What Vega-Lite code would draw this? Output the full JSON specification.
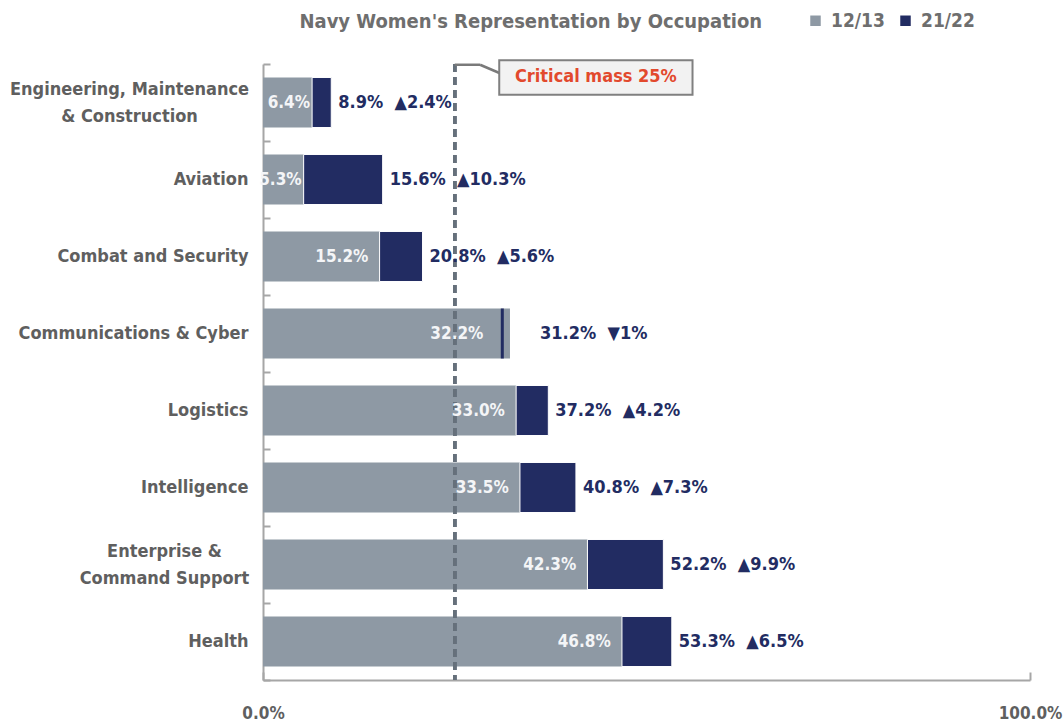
{
  "$schema": "https://vega.github.io/schema/vega-lite/v6.json",
  "width": 767,
  "height": 616,
  "autosize": {"type": "none"},
  "padding": {"left": 263, "top": 64, "right": 33, "bottom": 44},
  "background": "white",
  "title": {"text": "Navy Women's Representation by Occupation", "anchor": "start", "dx": 290, "offset": 0, "dy": 21, "fontSize": 20, "font": "DejaVu Sans Condensed, DejaVu Sans", "fontWeight": "bold", "color": "#6e6e6e"},
  "config": {"view": {"stroke": null}, "font": "DejaVu Sans Condensed, DejaVu Sans"},
  "resolve": {"scale": {"y": "independent"}, "axis": {"y": "independent"}},
  "layer": [
    {
      "data": {"values": [
        {"occ": "Engineering, Maintenance & Construction", "v1": 6.4, "v2": 8.9, "out": "8.9%\u00a0 ▲2.4%"},
        {"occ": "Aviation", "v1": 5.3, "v2": 15.6, "out": "15.6%\u00a0 ▲10.3%"},
        {"occ": "Combat and Security", "v1": 15.2, "v2": 20.8, "out": "20.8%\u00a0 ▲5.6%"},
        {"occ": "Communications & Cyber", "v1": 32.2, "v2": 31.2, "out": "31.2%\u00a0 ▼1%"},
        {"occ": "Logistics", "v1": 33.0, "v2": 37.2, "out": "37.2%\u00a0 ▲4.2%"},
        {"occ": "Intelligence", "v1": 33.5, "v2": 40.8, "out": "40.8%\u00a0 ▲7.3%"},
        {"occ": "Enterprise & Command Support", "v1": 42.3, "v2": 52.2, "out": "52.2%\u00a0 ▲9.9%"},
        {"occ": "Health", "v1": 46.8, "v2": 53.3, "out": "53.3%\u00a0 ▲6.5%"}
      ]},
      "transform": [
        {"calculate": "format(datum.v1, '.1f') + '%'", "as": "inLabel"},
        {"calculate": "datum.v2 < datum.v1 ? datum.v2 - 2.2 : (datum.v1 < 10 ? datum.v1 : datum.v1 - 1.2)", "as": "xi"},
        {"calculate": "datum.v2 < datum.v1 ? datum.v1 + 3 : datum.v2", "as": "xe"}
      ],
      "encoding": {
        "y": {
          "field": "occ", "type": "nominal",
          "scale": {"domain": ["Engineering, Maintenance & Construction", "Aviation", "Combat and Security", "Communications & Cyber", "Logistics", "Intelligence", "Enterprise & Command Support", "Health"], "paddingInner": 0, "paddingOuter": 0},
          "axis": {
            "title": null,
            "tickBand": "extent",
            "domainColor": "#a6a6a6", "domainWidth": 2,
            "tickColor": "#a6a6a6", "tickWidth": 2, "tickSize": -7,
            "labelFontSize": 18, "labelColor": "#5f5f5f", "labelFontWeight": "bold",
            "labelAlign": {"condition": {"test": "datum.value == 'Engineering, Maintenance & Construction' || datum.value == 'Enterprise & Command Support'", "value": "center"}, "value": "right"},
            "labelPadding": {"condition": [
              {"test": "datum.value == 'Engineering, Maintenance & Construction'", "value": 141},
              {"test": "datum.value == 'Enterprise & Command Support'", "value": 106}
            ], "value": 22},
            "labelOffset": {"condition": {"test": "datum.value == 'Engineering, Maintenance & Construction' || datum.value == 'Enterprise & Command Support'", "value": -13}, "value": 0},
            "labelLineHeight": 27, "labelLimit": 400,
            "labelExpr": "datum.value == 'Engineering, Maintenance & Construction' ? ['Engineering, Maintenance', '& Construction'] : datum.value == 'Enterprise & Command Support' ? ['Enterprise &', 'Command Support'] : datum.value"
          }
        }
      },
      "layer": [
        {
          "mark": {"type": "bar", "height": {"band": 0.65}},
          "encoding": {
            "x": {"field": "v1", "type": "quantitative", "scale": {"domain": [0, 100], "nice": false},
              "axis": {"title": null, "values": [0, 100], "labelExpr": "format(datum.value, '.1f') + '%'", "grid": false, "labelFlush": false,
                "domainColor": "#a6a6a6", "domainWidth": 2, "tickColor": "#a6a6a6", "tickWidth": 2, "tickSize": -8,
                "labelFontSize": 17, "labelColor": "#5f5f5f", "labelFontWeight": "bold", "labelPadding": 33}},
            "x2": {"datum": 0},
            "color": {"datum": "12/13", "type": "nominal",
              "scale": {"domain": ["12/13", "21/22"], "range": ["#8e99a4", "#222c62"]},
              "legend": {"title": null, "orient": "none", "legendX": 543, "legendY": -53, "direction": "horizontal",
                "symbolType": "square", "symbolSize": 110, "symbolStrokeWidth": 0, "labelFontSize": 19, "labelFontWeight": "bold",
                "labelColor": "#6e6e6e", "columnPadding": 11, "labelOffset": 6}}
          }
        },
        {
          "transform": [{"filter": "datum.v2 >= datum.v1"}],
          "mark": {"type": "bar", "height": {"band": 0.65}, "stroke": "white", "strokeWidth": 1},
          "encoding": {
            "x": {"field": "v1", "type": "quantitative"},
            "x2": {"field": "v2"},
            "color": {"datum": "21/22", "type": "nominal"}
          }
        },
        {
          "transform": [{"filter": "datum.v2 < datum.v1"}],
          "mark": {"type": "bar", "height": {"band": 0.65}, "stroke": "#222c62", "strokeWidth": 3, "fill": "#222c62"},
          "encoding": {
            "x": {"field": "v2", "type": "quantitative"},
            "x2": {"field": "v2"}
          }
        },
        {
          "mark": {"type": "rule", "color": "#66707b", "strokeWidth": 3, "strokeDash": [8, 5]},
          "encoding": {"x": {"datum": 25, "type": "quantitative"}, "y": {"value": 0}, "y2": {"value": 616}}
        },
        {
          "mark": {"type": "text", "align": "right", "baseline": "middle", "dx": -2, "fontSize": 17, "fontWeight": "bold", "color": "#f4f5f7"},
          "encoding": {"x": {"field": "xi", "type": "quantitative"}, "text": {"field": "inLabel"}}
        },
        {
          "mark": {"type": "text", "align": "left", "baseline": "middle", "dx": 7, "fontSize": 18, "fontWeight": "bold", "color": "#222c62"},
          "encoding": {"x": {"field": "xe", "type": "quantitative"}, "text": {"field": "out"}}
        }
      ]
    },
    {
      "data": {"values": [{"note": "Critical mass 25%"}]},
      "encoding": {},
      "layer": [
        {
          "mark": {"type": "rule", "color": "#7a7a7a", "strokeWidth": 2.5},
          "encoding": {
            "x": {"datum": 25, "type": "quantitative", "scale": {"domain": [0, 100], "nice": false}},
            "x2": {"datum": 28.3},
            "y": {"datum": 0.01, "type": "quantitative", "scale": {"domain": [0, 8], "reverse": true, "nice": false, "zero": false}, "axis": null},
            "y2": {"datum": 0.01}
          }
        },
        {
          "mark": {"type": "rule", "color": "#7a7a7a", "strokeWidth": 2.5},
          "encoding": {
            "x": {"datum": 28.3, "type": "quantitative"},
            "x2": {"datum": 30.9},
            "y": {"datum": 0.01, "type": "quantitative"},
            "y2": {"datum": 0.12}
          }
        },
        {
          "mark": {"type": "rect", "fill": "#f2f2f2", "stroke": "#808080", "strokeWidth": 2},
          "encoding": {
            "x": {"datum": 30.8, "type": "quantitative"},
            "x2": {"datum": 56.0},
            "y": {"datum": -0.05, "type": "quantitative"},
            "y2": {"datum": 0.4}
          }
        },
        {
          "mark": {"type": "text", "align": "center", "baseline": "middle", "fontSize": 18, "fontWeight": "bold", "color": "#e2492d"},
          "encoding": {
            "x": {"datum": 43.4, "type": "quantitative"},
            "y": {"datum": 0.175, "type": "quantitative"},
            "text": {"field": "note"}
          }
        }
      ]
    }
  ]
}
